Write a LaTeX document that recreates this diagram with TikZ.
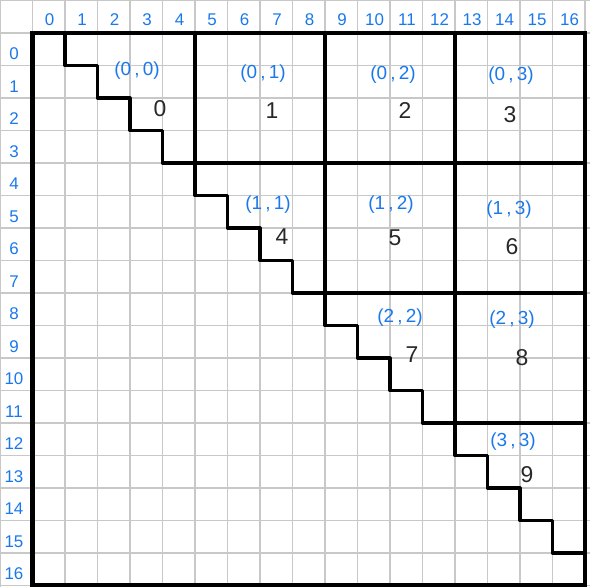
\documentclass[tikz,border=0pt]{standalone}
\usepackage{fontspec}
\setmainfont{Liberation Sans}
\definecolor{gridgray}{RGB}{200,200,200}
\definecolor{penblue}{RGB}{25,120,235}
\definecolor{penblack}{RGB}{40,40,40}
\begin{document}
\begin{tikzpicture}[x=1bp,y=-1bp,
  gridline/.style={draw=gridgray,line width=1.3bp},
  heavy/.style={draw=black,line width=3.2bp,line join=round,line cap=round},
  borderline/.style={draw=black,line width=4.5bp},
  idxlabel/.style={text=penblue,font=\fontsize{17}{17}\selectfont,inner sep=0pt},
  blocklabel/.style={text=penblue,font=\fontsize{19}{19}\selectfont,inner sep=0pt},
  numlabel/.style={text=penblack,font=\fontsize{23}{23}\selectfont,inner sep=0pt}]
\useasboundingbox (0,0) rectangle (590,587);
\begin{scope}
\clip (0,0) rectangle (590,587);
\foreach \k in {-1,...,17} \draw[gridline] ({32.5+32.5*\k},0) -- ({32.5+32.5*\k},587);
\foreach \k in {-1,...,17} \draw[gridline] (0,{33+32.5*\k}) -- (590,{33+32.5*\k});
% staircase
\draw[heavy] (65,33) \foreach \k in {0,...,15} { -- ({32.5+32.5*(\k+1)},{33+32.5*(\k+1)}) -- ({32.5+32.5*(\k+2)},{33+32.5*(\k+1)}) };
% block lines
\draw[heavy] (195,33) -- (195,163);
\draw[heavy] (325,33) -- (325,293);
\draw[heavy] (455,33) -- (455,423);
\draw[heavy] (195,163) -- (585,163);
\draw[heavy] (325,293) -- (585,293);
\draw[heavy] (455,423) -- (585,423);
% border
\draw[borderline] (32.5,33) rectangle (585,585.5);
\end{scope}
% column indices
\foreach \k in {0,...,16} \node[idxlabel] (c\k) at ({49.5+32.5*\k},20) {\k};
% row indices
\foreach \k in {0,...,16} \node[idxlabel] (r\k) at (14,{54+32.5*\k}) {\k};
% block labels
\node[blocklabel] (b00) at (137,71) {(0\,,\,0)};
\node[blocklabel] (b01) at (263,74) {(0\,,\,1)};
\node[blocklabel] (b02) at (393,75) {(0\,,\,2)};
\node[blocklabel] (b03) at (511,76) {(0\,,\,3)};
\node[blocklabel] (b11) at (268,205) {(1\,,\,1)};
\node[blocklabel] (b12) at (391,205) {(1\,,\,2)};
\node[blocklabel] (b13) at (509,210) {(1\,,\,3)};
\node[blocklabel] (b22) at (400,318) {(2\,,\,2)};
\node[blocklabel] (b23) at (512,320) {(2\,,\,3)};
\node[blocklabel] (b33) at (513,442) {(3\,,\,3)};
% block numbers
\node[numlabel] (n0) at (160,109) {0};
\node[numlabel] (n1) at (272,111) {1};
\node[numlabel] (n2) at (405,111) {2};
\node[numlabel] (n3) at (510,115) {3};
\node[numlabel] (n4) at (282,237) {4};
\node[numlabel] (n5) at (395,238) {5};
\node[numlabel] (n6) at (512,247) {6};
\node[numlabel] (n7) at (412,355) {7};
\node[numlabel] (n8) at (522,358) {8};
\node[numlabel] (n9) at (527,475) {9};
\end{tikzpicture}
\end{document}
